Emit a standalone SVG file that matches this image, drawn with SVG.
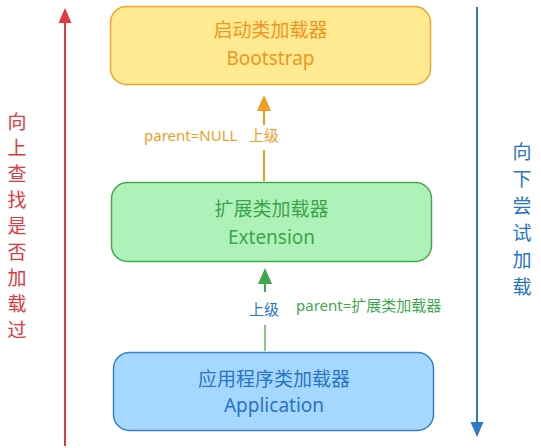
<svg xmlns="http://www.w3.org/2000/svg" width="541" height="448" viewBox="0 0 541 448">
<style>
text{font-family:"Noto Sans","Noto Sans CJK SC",sans-serif;text-anchor:middle}
.t{font-size:19px}
.lbl{font-size:15px;text-anchor:start}
.side{font-size:19px}
</style>
<rect width="541" height="448" fill="#ffffff"/>
<g id="connectors">
  <g id="left-arrow">
    <line x1="65" y1="22" x2="65" y2="446" stroke="#E0393E" stroke-width="2"/>
    <polygon points="65,8 58.5,23 71.5,23" fill="#E0393E"/>
  </g>
  <g id="right-arrow">
    <line x1="477" y1="7" x2="477" y2="424" stroke="#2E78C8" stroke-width="2"/>
    <polygon points="477,437 470.5,422 483.5,422" fill="#2E78C8"/>
  </g>
  <g id="ext-to-boot">
    <line x1="264" y1="110" x2="264" y2="125" stroke="#F39C1F" stroke-width="2"/>
    <line x1="264" y1="150" x2="264" y2="181" stroke="#F39C1F" stroke-width="2"/>
    <polygon points="264,95 257,111 271,111" fill="#F39C1F"/>
  </g>
  <g id="app-to-ext">
    <line x1="265" y1="283" x2="265" y2="292" stroke="#3EA84C" stroke-width="2"/>
    <line x1="265" y1="325" x2="265" y2="351" stroke="#7FCB7F" stroke-width="2"/>
    <polygon points="265,268 258,284 272,284" fill="#3EA84C"/>
  </g>
  <text class="lbl" x="144" y="141" fill="#F39C1F">parent=NULL</text>
  <text class="lbl" x="249" y="141" fill="#F39C1F">上级</text>
  <text class="lbl" x="249" y="315" fill="#2874C5">上级</text>
  <text class="lbl" x="296" y="311" fill="#3EA84C">parent=扩展类加载器</text>
</g>
<g id="bootstrap">
  <rect x="110.5" y="6.5" width="320" height="78" rx="16" fill="#FFE991" stroke="#F5A42A" stroke-width="1.5"/>
  <text class="t" x="270.5" y="37" fill="#F0961E">启动类加载器</text>
  <text class="t" x="270.5" y="65" fill="#F0961E">Bootstrap</text>
</g>
<g id="extension">
  <rect x="111.5" y="182.5" width="320" height="79" rx="16" fill="#AFF2B9" stroke="#45A850" stroke-width="1.5"/>
  <text class="t" x="271.5" y="216" fill="#3BA54B">扩展类加载器</text>
  <text class="t" x="271.5" y="244" fill="#3BA54B">Extension</text>
</g>
<g id="application">
  <rect x="113.5" y="352.5" width="320" height="78" rx="16" fill="#A6D8FF" stroke="#3580CF" stroke-width="1.5"/>
  <text class="t" x="274" y="386" fill="#2874C5">应用程序类加载器</text>
  <text class="t" x="274" y="412" fill="#2874C5">Application</text>
</g>
<g id="left-label" fill="#E0393E">
  <text class="side" x="17" y="129">向</text>
  <text class="side" x="17" y="155">上</text>
  <text class="side" x="17" y="181">查</text>
  <text class="side" x="17" y="207">找</text>
  <text class="side" x="17" y="233">是</text>
  <text class="side" x="17" y="259">否</text>
  <text class="side" x="17" y="285">加</text>
  <text class="side" x="17" y="311">载</text>
  <text class="side" x="17" y="337">过</text>
</g>
<g id="right-label" fill="#2874C5">
  <text class="side" x="522" y="159">向</text>
  <text class="side" x="522" y="186">下</text>
  <text class="side" x="522" y="213">尝</text>
  <text class="side" x="522" y="240">试</text>
  <text class="side" x="522" y="267">加</text>
  <text class="side" x="522" y="294">载</text>
</g>
</svg>
